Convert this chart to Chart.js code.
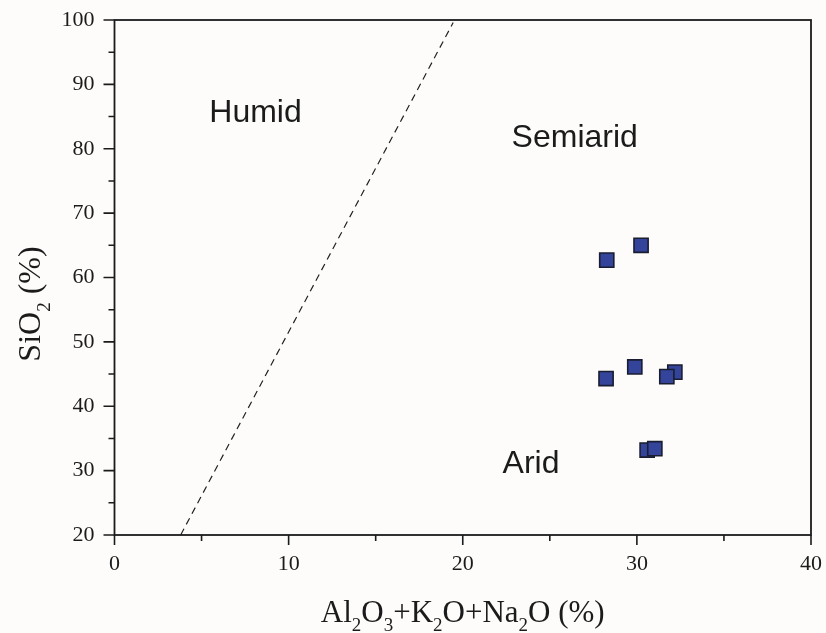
<!DOCTYPE html>
<html lang="en">
<head>
<meta charset="UTF-8">
<title>SiO2 vs Al2O3+K2O+Na2O</title>
<script src="https://cdn.jsdelivr.net/npm/chart.js"></script>
<style>
  html, body { margin: 0; padding: 0; background: #fdfcfa; }
  #wrap { width: 826px; height: 633px; }
</style>
</head>
<body>
<div id="wrap"><canvas id="climateChart"></canvas></div>
<script>
// sample compositions (%)
const oxideSum = [28.27, 30.24, 28.23, 29.88, 32.18, 31.72, 30.59, 31.03];
const silica   = [62.7, 65.0, 44.3, 46.1, 45.3, 44.6, 33.2, 33.4];

// humid / semiarid boundary line
const boundaryX = [3.8, 19.45];
const boundaryY = [20, 99.6];

// field names, anchored in data units (centre x, baseline y)
const regionNames = ['Humid', 'Semiarid', 'Arid'];
const regionX = [8.1, 26.43, 23.92];
const regionY = [84.2, 80.3, 29.7];

// labelled ticks
const xLabels = [0, 10, 20, 30, 40];
const yLabels = [20, 30, 40, 50, 60, 70, 80, 90, 100];

const INK = '#1b1b1b';
const SERIF = "'Liberation Serif', 'Times New Roman', serif";
const SANS = "'Liberation Sans', Arial, sans-serif";

// draw text with subscript pieces, centred on x
function drawRich(ctx, parts, x, y, size) {
  const subSize = Math.round(size * 0.6);
  let total = 0;
  parts.forEach(p => {
    ctx.font = (p.sub ? subSize : size) + 'px ' + SERIF;
    total += ctx.measureText(p.t).width;
  });
  let cx = x - total / 2;
  ctx.textAlign = 'left';
  ctx.textBaseline = 'alphabetic';
  parts.forEach(p => {
    ctx.font = (p.sub ? subSize : size) + 'px ' + SERIF;
    ctx.fillText(p.t, cx, p.sub ? y + size * 0.3 : y);
    cx += ctx.measureText(p.t).width;
  });
}

const decorations = {
  id: 'decorations',
  beforeDraw(chart) {
    const ctx = chart.ctx;
    ctx.save();
    ctx.fillStyle = '#fdfcfa';
    ctx.fillRect(0, 0, chart.width, chart.height);
    ctx.restore();
  },
  afterDraw(chart) {
    const ctx = chart.ctx;
    const a = chart.chartArea;
    const xs = chart.scales.x, ys = chart.scales.y;
    ctx.save();
    ctx.strokeStyle = INK;
    ctx.fillStyle = INK;

    // frame
    ctx.lineWidth = 1.8;
    ctx.strokeRect(a.left, a.top, a.right - a.left, a.bottom - a.top);

    // tick marks, outward, minor ones shorter
    ctx.lineWidth = 1.6;
    ctx.beginPath();
    for (let v = 0; v <= 40; v += 5) {
      const px = xs.getPixelForValue(v);
      const len = v % 10 === 0 ? 10 : 6;
      ctx.moveTo(px, a.bottom);
      ctx.lineTo(px, a.bottom + len);
    }
    for (let v = 20; v <= 100; v += 5) {
      const py = ys.getPixelForValue(v);
      const len = v % 10 === 0 ? 11 : 6;
      ctx.moveTo(a.left, py);
      ctx.lineTo(a.left - len, py);
    }
    ctx.stroke();

    // field names
    ctx.font = '32px ' + SANS;
    ctx.textAlign = 'center';
    ctx.textBaseline = 'alphabetic';
    regionNames.forEach((name, i) => {
      ctx.fillText(name, xs.getPixelForValue(regionX[i]), ys.getPixelForValue(regionY[i]));
    });

    // axis titles
    drawRich(ctx, [
      { t: 'Al' }, { t: '2', sub: true }, { t: 'O' }, { t: '3', sub: true },
      { t: '+K' }, { t: '2', sub: true }, { t: 'O+Na' }, { t: '2', sub: true },
      { t: 'O (%)' }
    ], (a.left + a.right) / 2, 622, 31);

    ctx.translate(40, 304);
    ctx.rotate(-Math.PI / 2);
    drawRich(ctx, [{ t: 'SiO' }, { t: '2', sub: true }, { t: ' (%)' }], 0, 0, 32);
    ctx.restore();
  }
};

const ctx = document.getElementById('climateChart').getContext('2d');
new Chart(ctx, {
  type: 'scatter',
  data: {
    datasets: [{
      label: 'Samples',
      data: oxideSum.map((x, i) => ({ x: x, y: silica[i] })),
      pointStyle: 'rect',
      pointRadius: 10,
      pointHoverRadius: 10,
      backgroundColor: '#33449a',
      borderColor: '#1a1d30',
      borderWidth: 1.6
    }, {
      label: 'Boundary',
      data: boundaryX.map((x, i) => ({ x: x, y: boundaryY[i] })),
      showLine: true,
      borderColor: '#222',
      borderWidth: 1.2,
      borderDash: [7, 5],
      pointRadius: 0,
      fill: false
    }]
  },
  options: {
    responsive: true,
    maintainAspectRatio: false,
    animation: false,
    events: [],
    layout: { padding: { top: 20, right: 15, left: 0, bottom: 0 } },
    plugins: {
      legend: { display: false },
      tooltip: { enabled: false }
    },
    scales: {
      x: {
        type: 'linear',
        min: 0,
        max: 40,
        grid: { display: false },
        border: { display: false },
        ticks: {
          stepSize: 5,
          maxRotation: 0,
          autoSkip: false,
          padding: 8,
          color: INK,
          font: { family: SERIF, size: 22 },
          callback: v => xLabels.includes(v) ? String(v) : ''
        },
        afterFit: s => {
          s.height = 98;
          s.paddingLeft = 0;
          s.paddingRight = 0;
        }
      },
      y: {
        type: 'linear',
        min: 20,
        max: 100,
        grid: { display: false },
        border: { display: false },
        ticks: {
          stepSize: 5,
          autoSkip: false,
          padding: 12,
          color: INK,
          font: { family: SERIF, size: 22 },
          callback: v => yLabels.includes(v) ? String(v) : ''
        },
        afterFit: s => {
          s.width = 114.5;
          s.paddingTop = 0;
          s.paddingBottom = 0;
        }
      }
    }
  },
  plugins: [decorations]
});
</script>
</body>
</html>
